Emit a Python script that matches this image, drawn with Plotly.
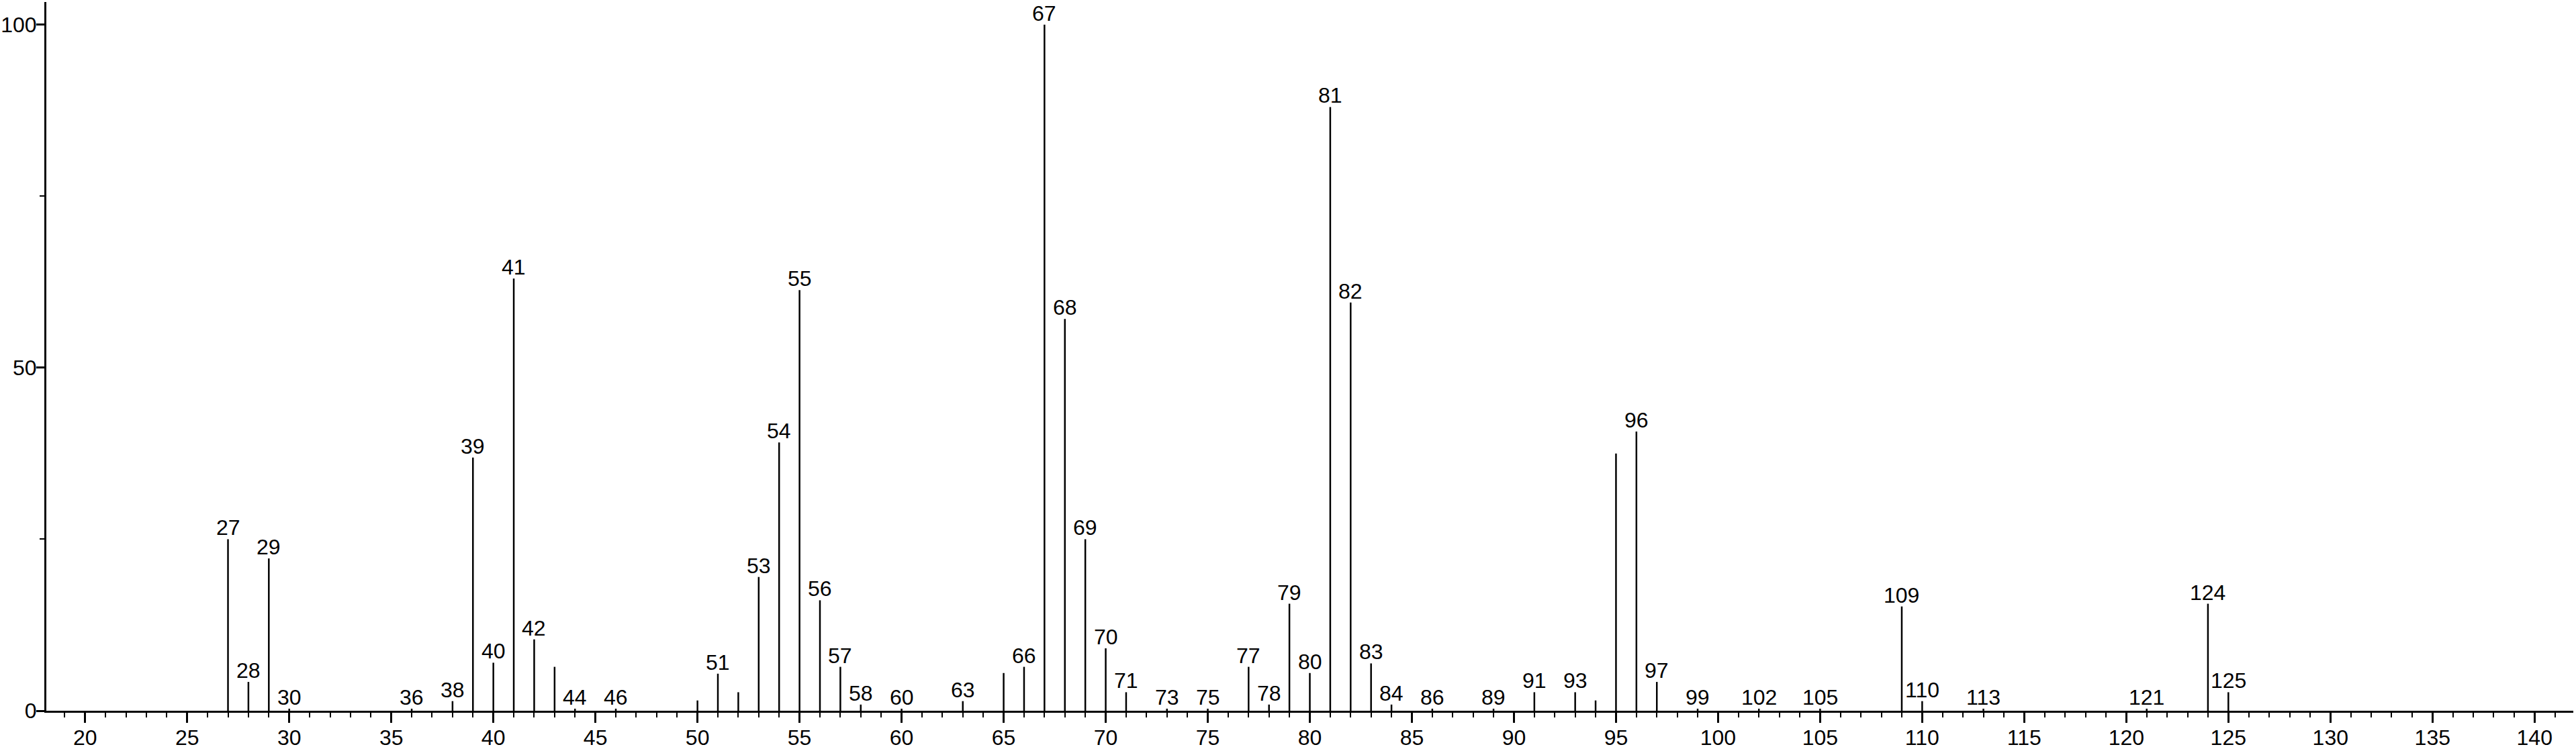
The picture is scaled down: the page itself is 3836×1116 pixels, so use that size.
import plotly.graph_objects as go

# m/z values of the peaks and their relative intensity (%)
mz = [27, 28, 29, 30, 36, 38, 39, 40, 41, 42, 43, 44, 46, 50, 51, 52, 53, 54, 55, 56,
      57, 58, 60, 63, 65, 66, 67, 68, 69, 70, 71, 73, 75, 77, 78, 79, 80, 81, 82, 83,
      84, 86, 89, 91, 93, 94, 95, 96, 97, 99, 102, 105, 109, 110, 113, 121, 124, 125]
intensity = [25.0, 4.2, 22.2, 0.3, 0.3, 1.4, 36.9, 7.0, 63.0, 10.4, 6.4, 0.3, 0.3, 1.5, 5.4, 2.7, 19.5, 39.1, 61.3, 16.1,
             6.4, 0.9, 0.3, 1.4, 5.5, 6.4, 100.0, 57.1, 25.0, 9.1, 2.7, 0.3, 0.3, 6.4, 0.9, 15.6, 5.5, 88.0, 59.5, 6.9,
             0.9, 0.3, 0.3, 2.7, 2.7, 1.5, 37.5, 40.7, 4.2, 0.3, 0.3, 0.3, 15.2, 1.4, 0.3, 0.3, 15.6, 2.7]

# peaks drawn without a label above the line
unlabeled = [43, 50, 52, 65, 94, 95]

FONT = "Liberation Sans, Arial, sans-serif"
FSIZE = 32

# build the stick lines (0 -> intensity) separated by None
xs, ys = [], []
for m, v in zip(mz, intensity):
    xs += [m, m, None]
    ys += [0, v, None]

fig = go.Figure()
fig.add_trace(go.Scatter(x=xs, y=ys, mode="lines",
                         line=dict(color="black", width=2.5),
                         hoverinfo="skip", showlegend=False))

# etiquetas m/z encima de cada pico
for m, v in zip(mz, intensity):
    if m in unlabeled:
        continue
    fig.add_annotation(x=m, y=v, text=str(m), showarrow=False,
                       xanchor="center", yanchor="bottom", yshift=-3,
                       font=dict(family=FONT, size=FSIZE, color="black"))

fig.update_layout(
    width=3836, height=1116,
    margin=dict(l=69, r=4, t=3, b=57),
    paper_bgcolor="white", plot_bgcolor="white",
    font=dict(family=FONT, size=FSIZE, color="black"),
    xaxis=dict(
        range=[18.1, 141.9], showgrid=False, zeroline=False, automargin=False,
        showline=True, linecolor="black", linewidth=3,
        ticks="outside", ticklen=15, tickwidth=2.5, tickcolor="black",
        tick0=0, dtick=5, ticklabelstandoff=-5,
        minor=dict(ticks="outside", ticklen=7, tickwidth=2, tickcolor="black", dtick=1, tick0=0),
        tickfont=dict(family=FONT, size=FSIZE),
    ),
    yaxis=dict(
        range=[0, 103.3], showgrid=False, zeroline=False, automargin=False,
        showline=True, linecolor="black", linewidth=3,
        ticks="outside", ticklen=12, tickwidth=2.5, tickcolor="black",
        tickvals=[0, 50, 100], ticklabelstandoff=-7,
        minor=dict(ticks="outside", ticklen=7, tickwidth=2, tickcolor="black", tickvals=[25, 75]),
        tickfont=dict(family=FONT, size=FSIZE),
    ),
)

# quitar el margen por defecto del body para que la figura ocupe toda la ventana
fig.write_html("out.html", config={"displayModeBar": False},
               post_script="document.body.style.margin='0';")
